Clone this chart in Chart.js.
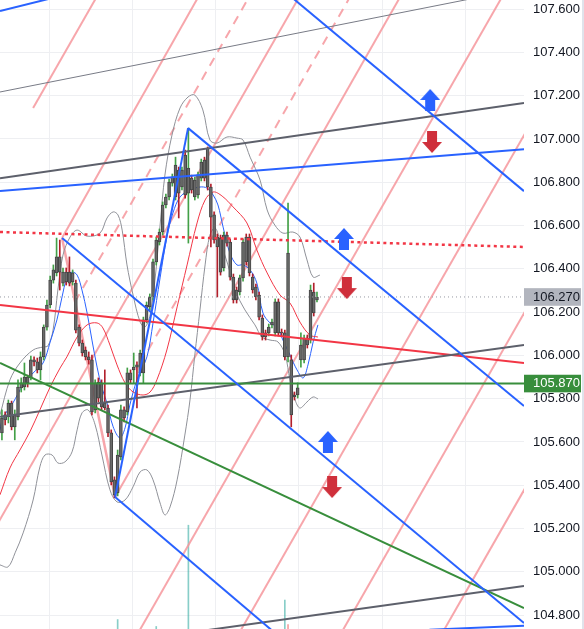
<!DOCTYPE html>
<html><head><meta charset="utf-8">
<script src="https://cdn.jsdelivr.net/npm/chart.js@4.4.1/dist/chart.umd.min.js"></script>
<style>
html,body{margin:0;padding:0;background:#fff;overflow:hidden}
#wrap{width:582px;height:629px;border-right:2px solid #e0e3eb}
canvas{display:block}
</style></head><body>
<div id="wrap"><canvas id="c" width="582" height="629"></canvas></div>
<script>
// ---- data (bars = candle index, values = price) ----
const priceTicks = [104.8,105.0,105.2,105.4,105.6,105.8,106.0,106.2,106.4,106.6,106.8,107.0,107.2,107.4,107.6];
const lastPrice = 106.27;
const levelPrice = 105.87;
const timeGridBars = [14.7, 40.6, 66.5, 92.4, 118.3, 144.2];

// [open, high, low, close]
const ohlc = [
[105.642,105.748,105.610,105.711],[105.725,105.739,105.679,105.702],[105.716,105.794,105.688,105.780],
[105.780,105.789,105.656,105.670],[105.670,105.748,105.610,105.725],[105.716,105.887,105.702,105.854],
[105.850,105.896,105.831,105.873],[105.854,105.965,105.840,105.900],[105.900,105.909,105.854,105.873],
[105.896,105.997,105.887,105.979],[105.979,105.993,105.951,105.970],[105.970,105.988,105.919,105.933],
[105.933,106.016,105.887,105.993],[105.993,106.141,105.979,106.131],[106.131,106.256,106.117,106.233],
[106.233,106.367,106.219,106.348],[106.348,106.418,106.334,106.395],[106.381,106.542,106.367,106.455],
[106.455,106.533,106.302,106.385],[106.334,106.404,106.321,106.385],[106.385,106.404,106.325,106.339],
[106.385,106.455,106.321,106.334],[106.339,106.395,106.325,106.381],[106.334,106.348,106.104,106.117],
[106.131,106.141,106.044,106.057],[106.057,106.071,105.997,106.011],[106.025,106.039,105.979,105.993],
[105.993,106.016,105.960,105.979],[105.979,106.002,105.725,105.739],[105.748,105.887,105.734,105.873],
[105.877,105.896,105.785,105.803],[105.873,105.887,105.748,105.762],[105.780,105.933,105.748,105.757],
[105.757,105.771,105.624,105.642],[105.642,105.656,105.402,105.416],[105.425,105.439,105.342,105.356],
[105.365,105.563,105.351,105.540],[105.531,105.771,105.517,105.748],[105.748,105.762,105.693,105.711],
[105.739,105.942,105.725,105.919],[105.919,105.933,105.873,105.887],[105.933,106.011,105.873,105.946],
[105.956,105.970,105.757,105.946],[105.919,106.025,105.905,106.011],[105.919,106.177,105.873,106.164],
[106.164,106.247,106.150,106.233],[106.224,106.284,106.210,106.270],[106.270,106.445,106.256,106.432],
[106.432,106.547,106.418,106.533],[106.524,106.584,106.510,106.570],[106.570,106.709,106.556,106.695],
[106.695,106.745,106.681,106.732],[106.732,106.815,106.718,106.801],[106.796,106.838,106.782,106.824],
[106.732,106.916,106.718,106.879],[106.856,106.870,106.635,106.750],[106.778,106.870,106.764,106.856],
[106.926,106.949,106.727,106.741],[106.750,107.050,106.519,106.866],[106.819,106.833,106.750,106.764],
[106.732,106.824,106.718,106.810],[106.741,106.847,106.727,106.833],[106.819,106.907,106.806,106.893],
[106.903,106.916,106.806,106.819],[106.958,106.963,106.764,106.778],[106.778,106.792,106.501,106.639],
[106.649,106.663,106.519,106.533],[106.547,106.561,106.270,106.501],[106.542,106.556,106.371,106.385],
[106.404,106.570,106.390,106.556],[106.556,106.570,106.505,106.519],[106.524,106.538,106.348,106.362],
[106.362,106.376,106.242,106.256],[106.302,106.316,106.242,106.256],[106.293,106.371,106.279,106.358],
[106.358,106.538,106.343,106.524],[106.547,106.561,106.418,106.432],[106.547,106.561,106.367,106.381],
[106.362,106.376,106.288,106.302],[106.316,106.330,106.256,106.270],[106.279,106.293,106.164,106.177],
[106.173,106.187,106.071,106.085],[106.104,106.117,106.071,106.085],[106.104,106.145,106.090,106.131],
[106.141,106.168,106.127,106.154],[106.104,106.261,106.090,106.247],[106.247,106.261,106.090,106.104],
[106.108,106.122,106.090,106.104],[106.104,106.117,105.979,105.993],[105.993,106.704,105.970,106.473],
[105.979,106.002,105.670,105.725],[105.817,105.831,105.794,105.808],[105.817,105.873,105.803,105.850],
[105.979,106.104,105.946,106.048],[105.979,106.094,105.965,106.080],[106.080,106.094,106.034,106.048],
[106.071,106.325,106.057,106.302],[106.293,106.334,106.182,106.196],[106.256,106.293,106.247,106.270]
];

const volumeUp = [[36,1.5],[48,0.4],[58,16.5],[88,4.6]];
const volumeDown = [[89,0.7]];

const bbUpper = [[-0.6,105.725],[2.5,105.887],[5.6,105.965],[9.7,106.025],[12.8,106.039],[14.3,106.044],[15.9,106.117],[17.4,106.302],[19.0,106.464],[21.2,106.547],[23.4,106.579],[26.5,106.551],[30.5,106.565],[32.7,106.635],[34.6,106.663],[36.1,106.649],[37.4,106.579],[38.9,106.418],[40.8,106.279],[43.0,106.154],[44.5,106.131],[46.1,106.187],[47.6,106.348],[49.2,106.602],[50.7,106.833],[52.9,107.018],[55.4,107.143],[57.9,107.194],[60.0,107.203],[62.5,107.134],[64.7,106.995],[66.9,106.981],[70.0,107.009],[73.1,107.004],[75.0,106.995],[77.2,106.916],[80.3,106.810],[82.5,106.672],[84.9,106.602],[87.4,106.565],[90.5,106.570],[92.7,106.547],[94.9,106.441],[96.8,106.362],[98.9,106.371]];
const bbLower = [[-0.6,105.032],[1.9,105.023],[4.1,105.088],[6.6,105.180],[9.7,105.332],[11.8,105.485],[13.4,105.540],[15.6,105.540],[17.4,105.503],[19.6,105.508],[21.8,105.554],[23.4,105.656],[24.9,105.734],[26.8,105.748],[29.0,105.679],[31.1,105.540],[33.6,105.379],[35.8,105.323],[38.3,105.332],[40.8,105.393],[43.0,105.462],[45.1,105.471],[47.0,105.425],[49.2,105.318],[50.7,105.263],[52.3,105.300],[54.5,105.425],[56.9,105.632],[58.5,105.794],[60.0,106.002],[61.6,106.210],[63.2,106.418],[64.7,106.556],[66.3,106.589],[67.8,106.533],[70.3,106.418],[72.5,106.302],[75.6,106.210],[78.7,106.141],[80.9,106.085],[83.4,106.071],[85.9,106.062],[88.1,106.002],[89.6,105.887],[91.2,105.794],[92.7,105.757],[94.9,105.785],[96.8,105.808],[98.3,105.799]];
const maRed = [[-0.6,105.356],[2.5,105.480],[5.6,105.563],[8.7,105.647],[11.8,105.748],[15.0,105.854],[18.1,105.942],[20.2,105.993],[23.4,106.085],[26.5,106.141],[29.6,106.150],[31.4,106.127],[33.6,106.048],[35.8,105.956],[38.3,105.873],[40.8,105.831],[43.9,105.817],[46.1,105.831],[48.2,105.887],[51.3,106.025],[54.5,106.224],[57.6,106.418],[60.7,106.612],[63.2,106.718],[65.7,106.755],[68.5,106.736],[71.9,106.686],[76.2,106.612],[79.3,106.487],[82.5,106.381],[86.5,106.279],[89.6,106.242],[92.7,106.154],[95.8,106.094],[98.3,106.085]];
const maBlue = [[-0.6,105.656],[0.3,105.711],[3.4,105.780],[6.6,105.864],[9.7,105.919],[12.8,105.965],[15.0,106.062],[17.1,106.164],[18.7,106.270],[20.2,106.358],[21.8,106.385],[23.4,106.371],[24.9,106.302],[26.5,106.196],[28.0,106.071],[29.6,105.946],[31.1,105.850],[32.7,105.780],[34.6,105.670],[36.7,105.619],[38.3,105.665],[39.8,105.771],[42.0,105.887],[45.1,105.993],[47.0,106.150],[49.2,106.358],[51.3,106.547],[53.2,106.658],[55.4,106.732],[58.5,106.764],[61.6,106.778],[63.8,106.773],[65.7,106.741],[67.2,106.695],[68.8,106.593],[70.9,106.473],[73.1,106.418],[75.0,106.418],[77.2,106.395],[79.3,106.334],[81.2,106.196],[83.4,106.150],[85.6,106.131],[87.4,106.071],[89.6,106.002],[91.8,105.933],[93.7,105.896],[95.2,105.956],[96.8,106.062],[98.3,106.141]];

// trend-line segments: [[bar, price], [bar, price]]
const blueLines = [
  [[-0.6,107.591],[30.5,107.706]],
  [[-0.6,106.759],[162.4,106.953]],
  [[77.2,107.815],[162.4,106.759]],
  [[57.9,107.050],[162.4,105.766]],
  [[18.7,106.542],[162.4,104.764]],
  [[35.2,105.346],[162.4,103.739]],
  [[133,104.733],[162.4,104.751]],
  [[35.2,105.346],[57.9,107.050]]
];
const grayThickLines = [
  [[-0.6,105.716],[162.4,106.048]],
  [[50,104.702],[162.4,104.935]],
  [[-0.6,106.819],[162.4,107.166]]
];
const grayThinLines = [[[-0.6,107.217],[162.4,107.696]]];
const redLines = [[[-0.6,106.233],[162.4,105.965]]];
const redDottedLines = [[[-0.6,106.570],[162.4,106.501]]];
const greenLines = [[[-0.6,105.965],[162.4,104.833]]];
const pinkLines = [
  [[9.7,107.143],[30.5,107.683]],
  [[18.7,106.542],[62.3,107.688]],
  [[-3.7,105.161],[93.7,107.688]],
  [[35.2,105.346],[125.1,107.688]],
  [[39.8,104.651],[156.8,107.688]],
  [[70.9,104.642],[164.3,107.066]],
  [[102.1,104.628],[164.3,106.244]],
  [[133.2,104.619],[164.3,105.427]]
];
const pinkLegs = [[[18.7,106.542],[35.2,105.346]]];
const pinkDashedLines = [
  [[22.7,106.247],[78.1,107.688]],
  [[43.0,105.960],[109.5,107.688]]
];
const arrowsUp = [[133.2,107.180],[106.4,106.538],[101.4,105.600]];
const arrowsDown = [[133.8,106.986],[107.3,106.311],[102.7,105.392]];

// ---- chart ----
const X_MIN = -0.6, X_MAX = 162.4, Y_MIN = 104.736, Y_MAX = 107.642;
const near = (a,b) => Math.abs(a-b) < 1e-6;
const pts = arr => arr.map(([x,y]) => ({x, y}));

function mkArrow(color, up){
  const c = document.createElement('canvas'); c.width = 20; c.height = 22;
  const g = c.getContext('2d'); g.fillStyle = color; g.beginPath();
  if (up) { g.moveTo(10,0); g.lineTo(20,11); g.lineTo(15,11); g.lineTo(15,22); g.lineTo(5,22); g.lineTo(5,11); g.lineTo(0,11); }
  else { g.moveTo(5,0); g.lineTo(15,0); g.lineTo(15,11); g.lineTo(20,11); g.lineTo(10,22); g.lineTo(0,11); g.lineTo(5,11); }
  g.closePath(); g.fill(); return c;
}

const datasets = [];
function addSegs(list, color, width, dash, order){
  list.forEach(seg => datasets.push({type:'line', data: pts(seg), borderColor: color, borderWidth: width,
    borderDash: dash || [], pointRadius: 0, fill: false, tension: 0, order, borderCapStyle: 'butt'}));
}
function addCurve(list, color, width, order){
  datasets.push({type:'line', data: pts(list), borderColor: color, borderWidth: width, pointRadius: 0,
    fill: false, tension: 0.35, order});
}

// volume
datasets.push({type:'bar', yAxisID:'vol', data: pts(volumeUp), backgroundColor:'rgba(38,166,154,0.55)', barThickness:1, grouped:false, order:10});
datasets.push({type:'bar', yAxisID:'vol', data: pts(volumeDown), backgroundColor:'rgba(239,83,80,0.55)', barThickness:1, grouped:false, order:10});
// pink lines
addSegs(pinkLines, 'rgba(246,150,156,0.85)', 2, null, 9);
addSegs(pinkLegs, 'rgba(246,150,156,0.85)', 2.5, null, 9);
addSegs(pinkDashedLines, 'rgba(246,150,156,0.85)', 2, [9,7], 9);
// indicators
addCurve(bbUpper, '#8f9198', 1, 7);
addCurve(bbLower, '#8f9198', 1, 7);
addCurve(maRed, '#f23645', 1, 6);
addCurve(maBlue, '#2962ff', 1, 6);
// candles
datasets.push({type:'bar', data: ohlc.map((d,i) => ({x:i, y:[d[2], d[1]]})),
  backgroundColor: ohlc.map(d => d[3] >= d[0] ? '#43a047' : '#b2202c'), barThickness:1, grouped:false, order:5});
datasets.push({type:'bar', data: ohlc.map((d,i) => ({x:i, y:[d[0], d[3]]})),
  backgroundColor:'#6a6a6a', borderColor:'#454545', borderWidth:1, borderSkipped:false, barThickness:3, grouped:false, order:4});
// horizontal levels
addSegs([[[X_MIN,lastPrice],[X_MAX,lastPrice]]], '#9598a1', 1, [1,3], 3);
addSegs([[[X_MIN,levelPrice],[X_MAX,levelPrice]]], '#388e3c', 2, null, 2);
// trend lines
addSegs(grayThinLines, '#787b86', 1, null, 2);
addSegs(grayThickLines, '#5d606b', 2, null, 2);
addSegs(redDottedLines, '#f23645', 2.5, [3,3.5], 2);
addSegs(redLines, '#f23645', 2, null, 2);
addSegs(greenLines, '#388e3c', 2, null, 2);
addSegs(blueLines, '#2962ff', 2, null, 1);
// arrows
datasets.push({type:'scatter', data: pts(arrowsUp), pointStyle: mkArrow('#2962ff', true), pointRadius: 10, order: 0});
datasets.push({type:'scatter', data: pts(arrowsDown), pointStyle: mkArrow('#cf2f3b', false), pointRadius: 10, order: 0});

const special = v => near(v, lastPrice) || near(v, levelPrice);

new Chart(document.getElementById('c'), {
  type: 'scatter',
  data: { datasets },
  options: {
    responsive: false, animation: false, devicePixelRatio: 1, events: [],
    layout: { padding: 0, autoPadding: false },
    plugins: { legend: { display: false }, tooltip: { enabled: false } },
    scales: {
      x: { type: 'linear', min: X_MIN, max: X_MAX, offset: false,
        grid: { color: '#eeeff2', drawTicks: false, offset: false },
        border: { display: false }, ticks: { display: false },
        afterBuildTicks: s => { s.ticks = timeGridBars.map(v => ({value: v})); },
        afterFit: s => { s.height = 0; s.paddingLeft = 0; s.paddingRight = 0; } },
      y: { type: 'linear', position: 'right', min: Y_MIN, max: Y_MAX,
        grid: { color: ctx => (ctx.tick && special(ctx.tick.value)) ? 'rgba(0,0,0,0)' : '#eeeff2', drawTicks: false },
        border: { display: false },
        ticks: { autoSkip: false, padding: 9,
          font: { family: "'Liberation Sans', Arial, sans-serif", size: 13 },
          color: ctx => (ctx.tick && near(ctx.tick.value, levelPrice)) ? '#ffffff' : '#131722',
          callback: v => Number(v).toFixed(3),
          showLabelBackdrop: ctx => !!(ctx.tick && special(ctx.tick.value)),
          backdropColor: ctx => (ctx.tick && near(ctx.tick.value, levelPrice)) ? '#388e3c' : '#b2b5be',
          backdropPadding: { top: 1, bottom: 1, left: 9, right: 1 } },
        afterBuildTicks: s => { s.ticks = priceTicks.concat([lastPrice, levelPrice]).sort((a,b) => a-b).map(v => ({value: v})); },
        afterFit: s => { s.width = 58; s.paddingTop = 0; s.paddingBottom = 0; } },
      vol: { type: 'linear', display: false, min: 0, max: 100 }
    }
  }
});
</script>
</body></html>
